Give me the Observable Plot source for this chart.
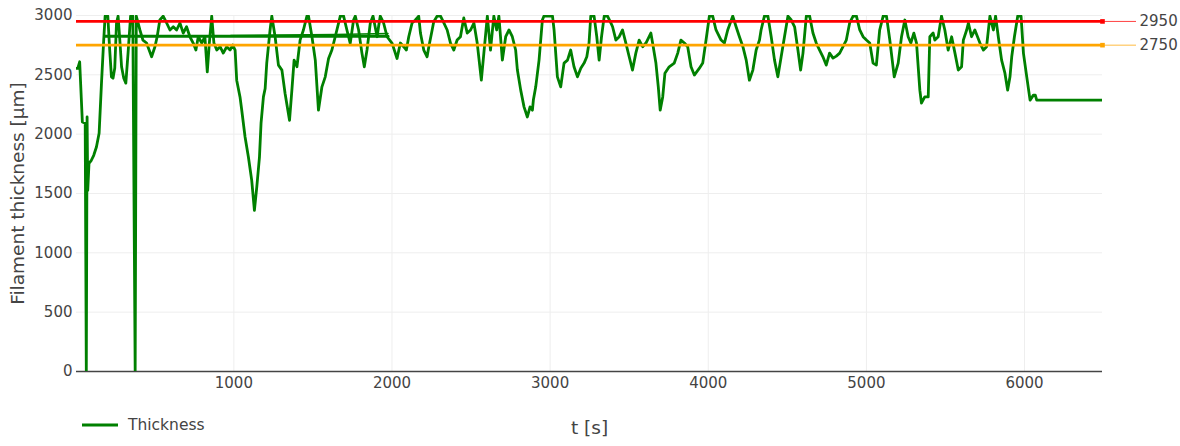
<!DOCTYPE html>
<html>
<head>
<meta charset="utf-8">
<script src="https://cdn.jsdelivr.net/npm/d3@7"></script>
<script src="https://cdn.jsdelivr.net/npm/@observablehq/plot@0.6"></script>
<style>
  body { margin: 0; background: #fff; font-family: "DejaVu Sans", sans-serif; }
  #wrap { position: relative; width: 1180px; height: 446px; overflow: hidden; }
  #legend { position: absolute; left: 82px; top: 413px; display: flex; align-items: center;
            font-size: 15.5px; color: #444; font-family: "DejaVu Sans", sans-serif; }
  #legend span { margin-left: 10px; }
</style>
</head>
<body>
<div id="wrap">
  <div id="chart"></div>
  <div id="legend"><svg width="36" height="24"><line x1="0" x2="36" y1="12" y2="12" stroke="#008000" stroke-width="2.8"></line></svg><span>Thickness</span></div>
</div>
<script>
// ---- data ----
const time = [
  5, 13, 25, 42, 60, 67, 72, 76, 84, 99,
  114, 131, 148, 163, 177, 186, 203, 215, 226, 236,
  247, 258, 268, 279, 290, 304, 317, 331, 347, 361,
  376, 383, 406, 425, 448, 480, 501, 515, 532, 553,
  575, 596, 617, 638, 659, 680, 701, 722, 743, 760,
  775, 797, 817, 832, 845, 860, 874, 892, 913, 933,
  955, 976, 993, 1008, 1018, 1039, 1050, 1071, 1092, 1113,
  1130, 1145, 1162, 1172, 1187, 1198, 1208, 1229, 1240, 1261,
  1282, 1304, 1324, 1352, 1367, 1381, 1399, 1419, 1440, 1462,
  1472, 1494, 1515, 1535, 1557, 1578, 1599, 1620, 1641, 1673,
  1694, 1715, 1736, 1757, 1768, 1789, 1810, 1825, 1842, 1863,
  1880, 1906, 1916, 1926, 1947, 1969, 2001, 2032, 2053, 2074,
  2091, 2106, 2127, 2148, 2169, 2180, 2201, 2222, 2233, 2254,
  2264, 2286, 2307, 2328, 2349, 2370, 2391, 2412, 2433, 2454,
  2476, 2497, 2518, 2539, 2565, 2581, 2603, 2623, 2644, 2662,
  2676, 2698, 2719, 2740, 2761, 2782, 2793, 2814, 2835, 2856,
  2873, 2888, 2894, 2909, 2930, 2951, 2961, 3015, 3025, 3046,
  3067, 3088, 3110, 3130, 3151, 3173, 3194, 3215, 3232, 3246,
  3257, 3278, 3295, 3310, 3325, 3342, 3363, 3384, 3395, 3416,
  3437, 3458, 3479, 3500, 3521, 3542, 3563, 3585, 3606, 3637,
  3648, 3669, 3684, 3696, 3712, 3726, 3753, 3785, 3807, 3827,
  3849, 3870, 3891, 3912, 3943, 3965, 3986, 4007, 4028, 4049,
  4081, 4102, 4123, 4155, 4176, 4197, 4219, 4240, 4260, 4282,
  4303, 4324, 4334, 4355, 4377, 4398, 4419, 4440, 4461, 4482,
  4504, 4525, 4546, 4567, 4584, 4599, 4620, 4641, 4662, 4683,
  4704, 4725, 4746, 4767, 4789, 4810, 4831, 4852, 4873, 4894,
  4916, 4937, 4958, 4979, 5000, 5021, 5042, 5063, 5084, 5106,
  5127, 5148, 5176, 5201, 5222, 5243, 5264, 5281, 5300, 5317,
  5338, 5348, 5369, 5391, 5401, 5422, 5433, 5454, 5475, 5496,
  5517, 5539, 5560, 5581, 5602, 5613, 5634, 5645, 5665, 5686,
  5718, 5740, 5760, 5781, 5803, 5817, 5834, 5855, 5876, 5893,
  5908, 5919, 5936, 5957, 5978, 5993, 6014, 6035, 6056, 6068,
  6077, 6493
];
const thickness = [
  2555, 2555, 2610, 2103, 2092, 0, 2145, 1526, 1754, 1780,
  1822, 1892, 2008, 2430, 2793, 2995, 2995, 2709, 2483, 2472,
  2557, 2937, 2995, 2793, 2568, 2472, 2430, 2683, 2995, 2995,
  0, 2995, 2878, 2793, 2768, 2652, 2737, 2821, 2962, 2995,
  2937, 2878, 2905, 2878, 2937, 2852, 2905, 2821, 2768, 2709,
  2821, 2768, 2821, 2525, 2768, 2995, 2768, 2709, 2737, 2683,
  2737, 2709, 2751, 2709, 2455, 2314, 2202, 1976, 1807, 1611,
  1357, 1554, 1807, 2092, 2314, 2385, 2599, 2878, 2995, 2821,
  2582, 2540, 2343, 2117, 2371, 2624, 2568, 2793, 2878, 2995,
  2995, 2821, 2624, 2202, 2399, 2483, 2638, 2709, 2821, 2995,
  2995, 2878, 2765, 2962, 2995, 2878, 2683, 2568, 2709, 2937,
  2995, 2821, 2914, 2995, 2937, 2821, 2765, 2638, 2768, 2737,
  2709, 2821, 2937, 2962, 2995, 2852, 2709, 2652, 2737, 2878,
  2948, 2995, 2995, 2937, 2878, 2768, 2709, 2793, 2821, 2979,
  2852, 2878, 2937, 2768, 2455, 2683, 2995, 2709, 2995, 2878,
  2995, 2624, 2821, 2878, 2821, 2709, 2540, 2371, 2230, 2145,
  2230, 2202, 2287, 2399, 2624, 2962, 2995, 2995, 2878, 2483,
  2399, 2599, 2624, 2709, 2568, 2483, 2555, 2599, 2652, 2768,
  2995, 2995, 2821, 2624, 2821, 2995, 2995, 2937, 2905, 2793,
  2821, 2878, 2768, 2652, 2540, 2683, 2793, 2737, 2768, 2852,
  2768, 2599, 2399, 2202, 2314, 2514, 2568, 2599, 2683, 2793,
  2768, 2737, 2568, 2498, 2554, 2599, 2793, 2995, 2995, 2878,
  2793, 2768, 2878, 2995, 2905, 2821, 2737, 2624, 2455, 2540,
  2709, 2793, 2878, 2995, 2995, 2821, 2624, 2483, 2652, 2821,
  2995, 2962, 2905, 2709, 2540, 2683, 2995, 2995, 2852, 2768,
  2709, 2652, 2582, 2683, 2641, 2658, 2683, 2737, 2793, 2937,
  2995, 2995, 2878, 2821, 2793, 2768, 2599, 2582, 2878, 2995,
  2995, 2793, 2483, 2599, 2821, 2962, 2821, 2768, 2852, 2768,
  2371, 2261, 2314, 2314, 2821, 2852, 2793, 2821, 2995, 2878,
  2709, 2821, 2683, 2540, 2568, 2793, 2878, 2937, 2821, 2878,
  2768, 2709, 2737, 2995, 2878, 2995, 2821, 2624, 2514, 2371,
  2483, 2652, 2821, 2995, 2995, 2683, 2483, 2287, 2329, 2329,
  2287, 2287
];
// out-of-order return segments of the same trace
const returnTime1 = [186, 1975];
const returnThickness1 = [2825, 2825];
const returnTime2 = [980, 1640, 1975];
const returnThickness2 = [2832, 2840, 2848];

const limitValues = [2950, 2750];
const limitColors = ["#ff0000", "#ffa500"];

const xTicks = [1000, 2000, 3000, 4000, 5000, 6000];
const yTicks = [0, 500, 1000, 1500, 2000, 2500, 3000];

// ---- build tables ----
const main = time.map((t, i) => ({t, v: thickness[i]}));
const ret1 = returnTime1.map((t, i) => ({t, v: returnThickness1[i]}));
const ret2 = returnTime2.map((t, i) => ({t, v: returnThickness2[i]}));
const limits = limitValues.map((v, i) => ({value: v, color: limitColors[i]}));
const [tMin, tMax] = d3.extent(time);

const chart = Plot.plot({
  width: 1180,
  height: 446,
  marginLeft: 76,
  marginRight: 78,
  marginTop: 15,
  marginBottom: 75,
  style: {fontFamily: "DejaVu Sans, sans-serif", fontSize: "15px", color: "#444", background: "#fff"},
  x: {domain: [tMin, tMax]},
  y: {domain: [0, 3000]},
  marks: [
    Plot.gridX(xTicks, {stroke: "#eee", strokeOpacity: 1, strokeWidth: 1}),
    Plot.gridY(yTicks.filter(d => d > 0), {stroke: "#eee", strokeOpacity: 1, strokeWidth: 1}),
    Plot.axisX(xTicks, {tickSize: 0, tickPadding: 6, label: null, fill: "#444", tickFormat: d => String(d)}),
    Plot.axisY(yTicks, {tickSize: 0, tickPadding: 4, label: null, fill: "#444", tickFormat: d => String(d)}),
    Plot.ruleY([0], {stroke: "#444", strokeWidth: 1.5}),
    Plot.line(main, {x: "t", y: "v", stroke: "#008000", strokeWidth: 2.8, strokeLinejoin: "round", clip: true}),
    Plot.line(ret1, {x: "t", y: "v", stroke: "#008000", strokeWidth: 2.8, clip: true}),
    Plot.line(ret2, {x: "t", y: "v", stroke: "#008000", strokeWidth: 1.4, clip: true}),
    Plot.ruleY(limits, {y: "value", stroke: "color", strokeWidth: 2.7}),
    Plot.ruleY(limits, {y: "value", x1: tMax, x2: tMax, insetRight: -34, stroke: "color", strokeWidth: 1, strokeOpacity: 0.75}),
    Plot.dot(limits, {x: tMax, y: "value", symbol: "square", r: 2.6, fill: "color", stroke: null}),
    Plot.text(limits, {x: tMax, y: "value", text: d => String(d.value), dx: 37, textAnchor: "start", fill: "#444", fontSize: 15}),
    Plot.text(["t [s]"], {text: d => d, frameAnchor: "bottom", textAnchor: "middle", dy: 62, fontSize: 18.5, fill: "#444"}),
    Plot.text(["Filament thickness [µm]"], {text: d => d, frameAnchor: "left", textAnchor: "middle", dx: -58, rotate: -90, fontSize: 18.5, fill: "#444"})
  ]
});
document.getElementById("chart").appendChild(chart);
</script>
</body>
</html>
